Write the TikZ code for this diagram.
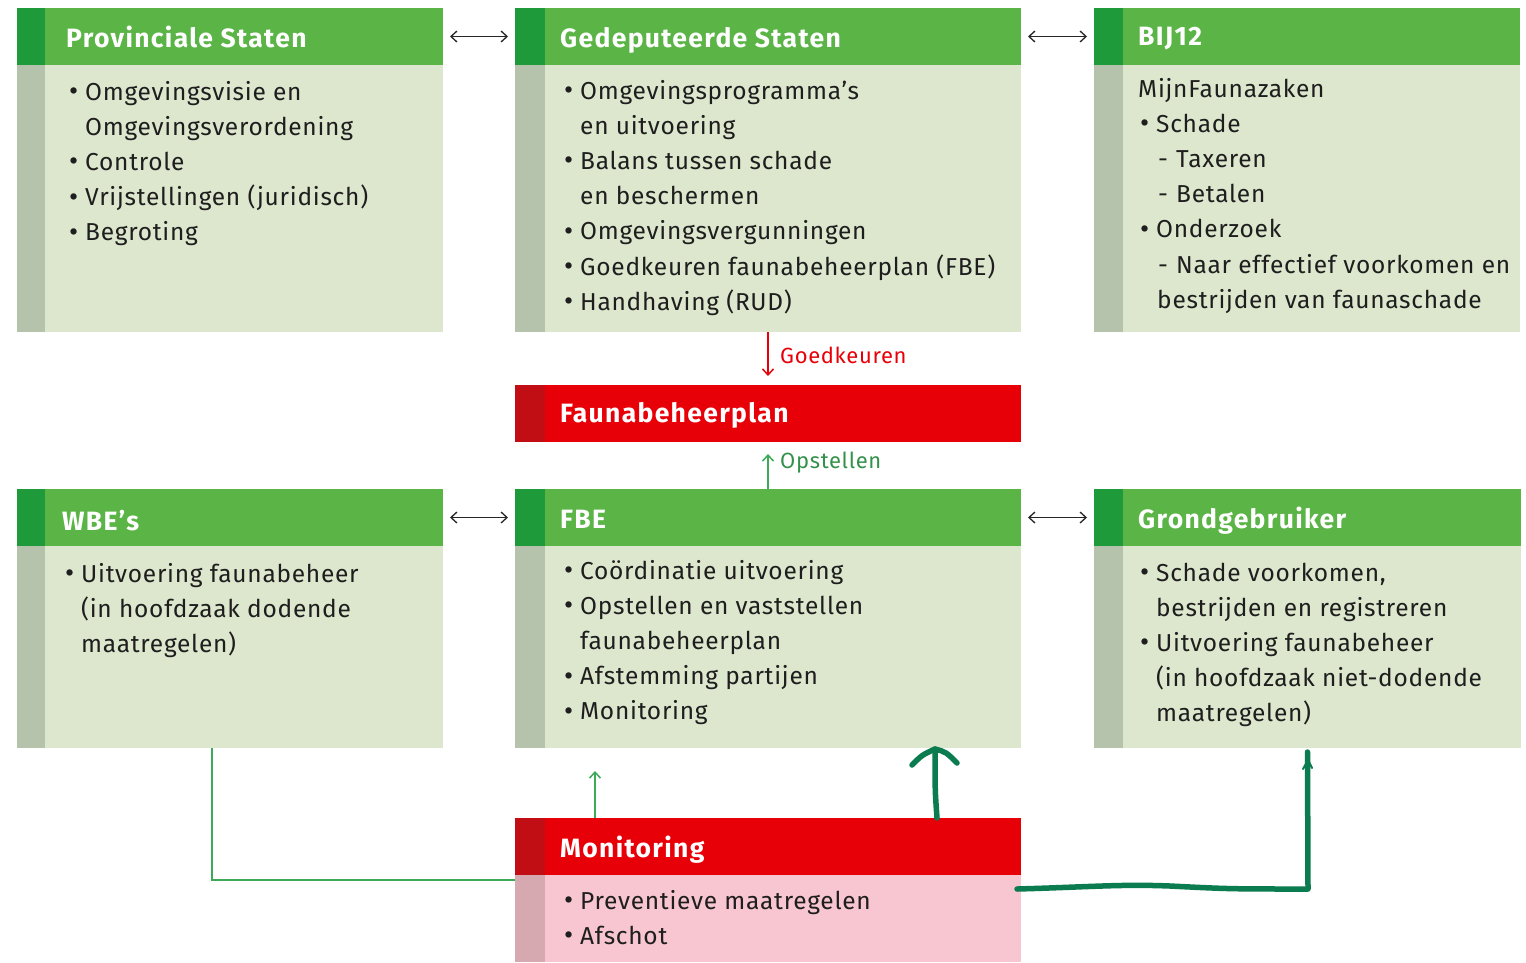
\documentclass[tikz,border=0pt]{standalone}
\usepackage{fontspec}
\setmainfont{Fira Sans}
\newfontfamily\bodyf{Fira Sans}[LetterSpace=3]
\newfontfamily\titlef{Fira Sans}[LetterSpace=5]
\newfontfamily\lblf{Fira Sans}[LetterSpace=3]
\usetikzlibrary{arrows.meta}
\definecolor{hg}{HTML}{5AB446}
\definecolor{hdg}{HTML}{1F9A3A}
\definecolor{bg}{HTML}{DDE7CD}
\definecolor{bsg}{HTML}{B5C3AC}
\definecolor{rd}{HTML}{E80008}
\definecolor{drd}{HTML}{C00E14}
\definecolor{pk}{HTML}{F8C6D0}
\definecolor{pks}{HTML}{D6A9B1}
\definecolor{lg}{HTML}{3DAA58}
\definecolor{hand}{HTML}{0B7B50}
\definecolor{txtc}{HTML}{1E1E1E}
\newcommand\mybul{\makebox[15pt][l]{\hspace*{-1pt}\raisebox{-0.5pt}{\fontsize{28}{28}\selectfont •}}}
\newcommand\mydash{\makebox[18pt][l]{-}}
\begin{document}
\begin{tikzpicture}[x=1pt,y=-1pt,
  box/.style={anchor=north west, inner sep=0, outer sep=0, minimum width=#1},
  body/.style={box=#1, fill=bg},
  head/.style={box=#1, fill=hg, minimum height=57pt},
  rhead/.style={box=#1, fill=rd, minimum height=57pt},
  title/.style={anchor=base west, inner sep=0, text=white, font=\titlef\fontsize{26.5}{30}\selectfont\bfseries},
  txt/.style={anchor=base west, inner sep=0, text=txtc, font=\bodyf\fontsize{24.5}{35.2}\selectfont},
  lbl/.style={anchor=west, inner sep=0, font=\lblf\fontsize{22}{24}\selectfont},
  dbl/.style={{Straight Barb[length=6pt,width=11pt]}-{Straight Barb[length=6pt,width=11pt]}, line width=1.3pt, black!85},
  sarr/.style={-{Straight Barb[length=6pt,width=11pt]}, line width=1.5pt},
  handl/.style={draw=hand, line width=5.5pt, line cap=round, line join=round}
]
\useasboundingbox (0,0) rectangle (1526,962);
\fill[white] (0,0) rectangle (1526,962);

% ---------- Provinciale Staten
\node[body=426pt, minimum height=324pt] (ps) at (17,8) {};
\fill[bsg] (ps.north west) rectangle ([xshift=28pt]ps.south west);
\node[head=426pt] (psh) at (17,8) {};
\fill[hdg] (psh.north west) rectangle ([xshift=28pt]psh.south west);
\node[title] (pst) at (66,47) {Provinciale Staten};
\node[txt] (psl) at (70,100) {\begin{tabular}[t]{@{}l@{}}
\mybul Omgevingsvisie en\\
\hspace*{15pt}Omgevingsverordening\\
\mybul Controle\\
\mybul Vrijstellingen (juridisch)\\
\mybul Begroting
\end{tabular}};

% ---------- Gedeputeerde Staten
\node[body=506pt, minimum height=324pt] (gs) at (515,8) {};
\fill[bsg] (gs.north west) rectangle ([xshift=30pt]gs.south west);
\node[head=506pt] (gsh) at (515,8) {};
\fill[hdg] (gsh.north west) rectangle ([xshift=30pt]gsh.south west);
\node[title] (gst) at (560,47) {Gedeputeerde Staten};
\node[txt] (gsl) at (565,99) {\begin{tabular}[t]{@{}l@{}}
\mybul Omgevingsprogramma’s\\
\hspace*{15pt}en uitvoering\\
\mybul Balans tussen schade\\
\hspace*{15pt}en beschermen\\
\mybul Omgevingsvergunningen\\
\mybul Goedkeuren faunabeheerplan (FBE)\\
\mybul Handhaving (RUD)
\end{tabular}};

% ---------- BIJ12
\node[body=426pt, minimum height=324pt] (bij) at (1094,8) {};
\fill[bsg] (bij.north west) rectangle ([xshift=29pt]bij.south west);
\node[head=426pt] (bijh) at (1094,8) {};
\fill[hdg] (bijh.north west) rectangle ([xshift=29pt]bijh.south west);
\node[title] (bijt) at (1138,45) {BIJ12};
\node[txt] (bijl) at (1138,97) {\begin{tabular}[t]{@{}l@{}}
MijnFaunazaken\\
\hspace*{3pt}\mybul Schade\\
\hspace*{20pt}\mydash Taxeren\\
\hspace*{20pt}\mydash Betalen\\
\hspace*{3pt}\mybul Onderzoek\\
\hspace*{20pt}\mydash Naar effectief voorkomen en\\
\hspace*{19pt}bestrijden van faunaschade
\end{tabular}};

% ---------- Faunabeheerplan
\node[rhead=506pt] (fp) at (515,385) {};
\fill[drd] (fp.north west) rectangle ([xshift=30pt]fp.south west);
\node[title] (fpt) at (560,422) {Faunabeheerplan};

% ---------- WBE's
\node[body=426pt, minimum height=259pt] (wbe) at (17,489) {};
\fill[bsg] (wbe.north west) rectangle ([xshift=28pt]wbe.south west);
\node[head=426pt] (wbeh) at (17,489) {};
\fill[hdg] (wbeh.north west) rectangle ([xshift=28pt]wbeh.south west);
\node[title] (wbet) at (62,530) {WBE’s};
\node[txt] (wbel) at (66,582) {\begin{tabular}[t]{@{}l@{}}
\mybul Uitvoering faunabeheer\\
\hspace*{15pt}(in hoofdzaak dodende\\
\hspace*{15pt}maatregelen)
\end{tabular}};

% ---------- FBE
\node[body=506pt, minimum height=259pt] (fbe) at (515,489) {};
\fill[bsg] (fbe.north west) rectangle ([xshift=30pt]fbe.south west);
\node[head=506pt] (fbeh) at (515,489) {};
\fill[hdg] (fbeh.north west) rectangle ([xshift=30pt]fbeh.south west);
\node[title] (fbet) at (560,528) {FBE};
\node[txt] (fbel) at (565,579) {\begin{tabular}[t]{@{}l@{}}
\mybul Coördinatie uitvoering\\
\mybul Opstellen en vaststellen\\
\hspace*{15pt}faunabeheerplan\\
\mybul Afstemming partijen\\
\mybul Monitoring
\end{tabular}};

% ---------- Grondgebruiker
\node[body=427pt, minimum height=259pt] (gg) at (1094,489) {};
\fill[bsg] (gg.north west) rectangle ([xshift=29pt]gg.south west);
\node[head=427pt] (ggh) at (1094,489) {};
\fill[hdg] (ggh.north west) rectangle ([xshift=29pt]ggh.south west);
\node[title] (ggt) at (1138,528) {Grondgebruiker};
\node[txt] (ggl) at (1141,581) {\begin{tabular}[t]{@{}l@{}}
\mybul Schade voorkomen,\\
\hspace*{15pt}bestrijden en registreren\\
\mybul Uitvoering faunabeheer\\
\hspace*{15pt}(in hoofdzaak niet-dodende\\
\hspace*{15pt}maatregelen)
\end{tabular}};

% ---------- Monitoring
\node[box=506pt, fill=pk, minimum height=144pt] (mon) at (515,818) {};
\fill[pks] (mon.north west) rectangle ([xshift=30pt]mon.south west);
\node[rhead=506pt] (monh) at (515,818) {};
\fill[drd] (monh.north west) rectangle ([xshift=30pt]monh.south west);
\node[title] (mont) at (560,857) {Monitoring};
\node[txt] (monl) at (565,909) {\begin{tabular}[t]{@{}l@{}}
\mybul Preventieve maatregelen\\
\mybul Afschot
\end{tabular}};

% ---------- double arrows
\draw[dbl] ([xshift=7pt]psh.east) -- ([xshift=-7pt]gsh.west);
\draw[dbl] ([xshift=7pt]gsh.east) -- ([xshift=-7pt]bijh.west);
\draw[dbl] ([xshift=7pt]wbeh.east) -- ([xshift=-7pt]fbeh.west);
\draw[dbl] ([xshift=7pt]fbeh.east) -- ([xshift=-7pt]ggh.west);

% ---------- Goedkeuren / Opstellen
\draw[sarr, draw=rd] (gs.south) -- ([yshift=9pt]fp.north);
\node[lbl, text=rd] (goed) at (780,355) {Goedkeuren};
\draw[sarr, draw=lg] (fbeh.north) -- ([yshift=-12pt]fp.south);
\node[lbl, text=lg!85!black] (opst) at (780,463) {Opstellen};

% ---------- thin green connectors
\draw[lg, line width=1.5pt] ([xshift=-18pt]wbe.south) |- ([yshift=-5pt]monh.south west);
\draw[sarr, draw=lg] ([xshift=-173pt]monh.north) -- ([xshift=-173pt,yshift=-23pt]fbe.south);

% ---------- hand-drawn arrows
\coordinate (h1) at (935,749);
\draw[handl] ([xshift=169pt]monh.north) .. controls (935,790) .. (h1);
\draw[handl] (912,765) .. controls (922,755) .. (h1) .. controls (946,752) .. (957,763);
\coordinate (h2) at (1017,889);
\draw[handl] (h2) .. controls (1090,887) and (1120,884) .. (1170,886) .. controls (1230,889) .. (1308,889) -- ([yshift=-4pt]gg.south);
\draw[hand, line width=2pt, line cap=round] (1303,769) -- (1308,760) -- (1312,768);
\end{tikzpicture}
\end{document}
